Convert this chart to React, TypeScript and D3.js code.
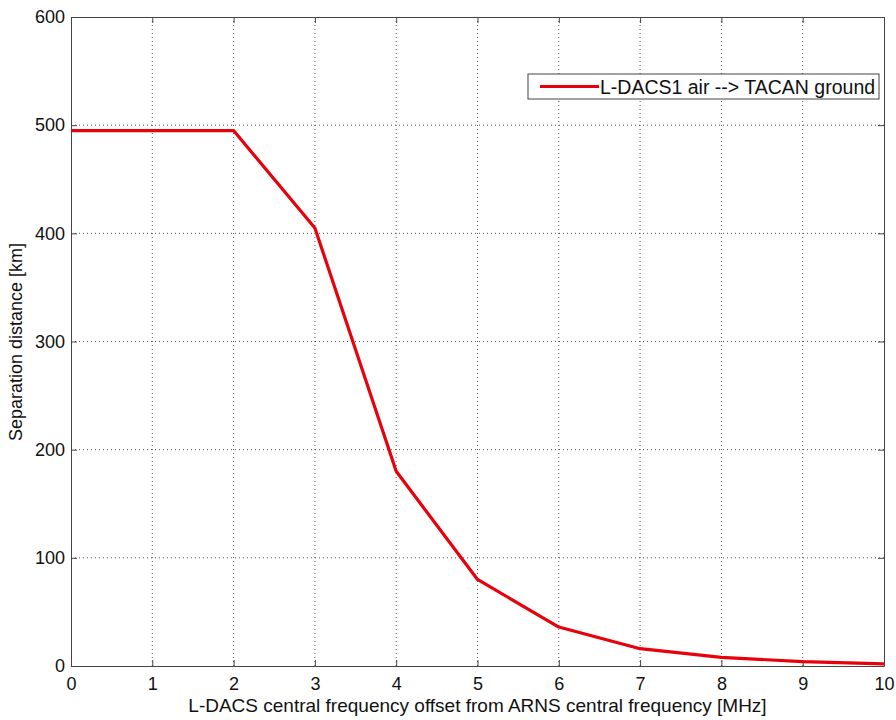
import React, { useRef, useEffect } from "react";
import * as d3 from "d3";

const width = 896;
const height = 720;
const margin = { top: 17, right: 12, bottom: 54, left: 71 };

const offsets = [0, 1, 2, 3, 4, 5, 6, 7, 8, 9, 10];
const separation = [495, 495, 495, 405, 180, 80, 36, 16, 8, 4, 2];
const xTicks = [0, 1, 2, 3, 4, 5, 6, 7, 8, 9, 10];
const yTicks = [0, 100, 200, 300, 400, 500, 600];

export default function App() {
  const ref = useRef<SVGSVGElement | null>(null);

  useEffect(() => {
    const svg = d3.select(ref.current);
    svg.selectAll("*").remove();

    const x = d3.scaleLinear().domain([0, 10]).range([margin.left, width - margin.right]);
    const y = d3.scaleLinear().domain([0, 600]).range([height - margin.bottom, margin.top]);
    const font = "Liberation Sans, Arial, sans-serif";

    svg.append("rect").attr("width", width).attr("height", height).attr("fill", "#fff");

    // grid
    const grid = svg.append("g").attr("stroke", "#555").attr("stroke-width", 1).attr("stroke-dasharray", "1,3");
    grid.selectAll("line.gx").data(xTicks.slice(1, -1)).enter().append("line")
      .attr("x1", (d) => x(d)).attr("x2", (d) => x(d))
      .attr("y1", y(0)).attr("y2", y(600));
    grid.selectAll("line.gy").data(yTicks.slice(1, -1)).enter().append("line")
      .attr("y1", (d) => y(d)).attr("y2", (d) => y(d))
      .attr("x1", x(0)).attr("x2", x(10));

    // axes (ticks inside)
    svg.append("g")
      .attr("transform", `translate(0,${y(0)})`)
      .call(d3.axisBottom(x).tickValues(xTicks).tickSizeInner(-6).tickSizeOuter(0).tickPadding(11).tickFormat(d3.format("d")))
      .call((g) => g.select(".domain").attr("stroke", "#444"))
      .call((g) => g.selectAll("line").attr("stroke", "#444"))
      .call((g) => g.selectAll("text").attr("font-size", 18).attr("font-family", font).attr("fill", "#111"));
    svg.append("g")
      .attr("transform", `translate(${x(0)},0)`)
      .call(d3.axisLeft(y).tickValues(yTicks).tickSizeInner(-6).tickSizeOuter(0).tickPadding(6))
      .call((g) => g.select(".domain").attr("stroke", "#444"))
      .call((g) => g.selectAll("line").attr("stroke", "#444"))
      .call((g) => g.selectAll("text").attr("font-size", 18).attr("font-family", font).attr("fill", "#111"));
    svg.append("g")
      .attr("transform", `translate(0,${y(600)})`)
      .call(d3.axisTop(x).tickValues(xTicks).tickSizeInner(-6).tickSizeOuter(0).tickFormat(() => ""))
      .call((g) => g.select(".domain").attr("stroke", "#444"))
      .call((g) => g.selectAll("line").attr("stroke", "#444"));
    svg.append("g")
      .attr("transform", `translate(${x(10)},0)`)
      .call(d3.axisRight(y).tickValues(yTicks).tickSizeInner(-6).tickSizeOuter(0).tickFormat(() => ""))
      .call((g) => g.select(".domain").attr("stroke", "#444"))
      .call((g) => g.selectAll("line").attr("stroke", "#444"));

    // line
    const line = d3.line<number>().x((_, i) => x(offsets[i])).y((d) => y(d));
    svg.append("path").datum(separation)
      .attr("d", line)
      .attr("fill", "none")
      .attr("stroke", "#e8000b")
      .attr("stroke-width", 3.2)
      .attr("stroke-linejoin", "round");

    // legend
    const lg = svg.append("g").attr("transform", "translate(528,74)");
    lg.append("rect").attr("width", 351).attr("height", 25).attr("fill", "#fff").attr("stroke", "#444");
    lg.append("line").attr("x1", 12).attr("x2", 71).attr("y1", 12.5).attr("y2", 12.5)
      .attr("stroke", "#e8000b").attr("stroke-width", 3.2);
    lg.append("text").attr("x", 72).attr("y", 19.5).attr("font-size", 19.5).attr("font-family", font)
      .attr("fill", "#111").text("L-DACS1 air --> TACAN ground");

    // axis labels
    svg.append("text")
      .attr("x", x(5)).attr("y", 712)
      .attr("text-anchor", "middle").attr("font-size", 19).attr("font-family", font).attr("fill", "#111")
      .text("L-DACS central frequency offset from ARNS central frequency [MHz]");
    svg.append("text")
      .attr("transform", `translate(22,342) rotate(-90)`)
      .attr("text-anchor", "middle").attr("font-size", 18).attr("font-family", font).attr("fill", "#111")
      .text("Separation distance [km]");
  }, []);

  return (
    <div style={{ position: "absolute", left: 0, top: 0 }}>
      <svg ref={ref} width={width} height={height} style={{ display: "block" }} />
    </div>
  );
}
